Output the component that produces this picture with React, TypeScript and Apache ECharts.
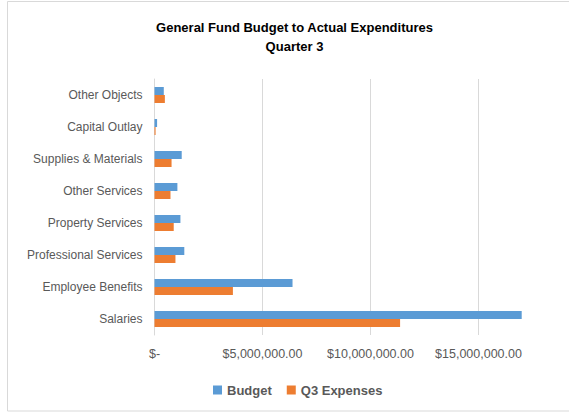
import React, { useEffect, useRef } from "react";
import * as echarts from "echarts";

const categories = [
  "Salaries",
  "Employee Benefits",
  "Professional Services",
  "Property Services",
  "Other Services",
  "Supplies & Materials",
  "Capital Outlay",
  "Other Objects",
];
const budget = [17000000, 6390000, 1380000, 1200000, 1060000, 1260000, 120000, 430000];
const q3Expenses = [11370000, 3630000, 970000, 890000, 740000, 790000, 50000, 480000];
const seriesNames = ["Budget", "Q3 Expenses"];
const titleLines = ["General Fund Budget to Actual Expenditures", "Quarter 3"];

const FONT = "'Liberation Sans', Arial, sans-serif";

function fmt(v: number): string {
  if (v === 0) return "$-";
  if (v > 15000000) return "";
  return "$" + v.toLocaleString("en-US", { minimumFractionDigits: 2, maximumFractionDigits: 2 });
}

export default function App() {
  const ref = useRef<HTMLDivElement>(null);
  useEffect(() => {
    if (!ref.current) return;
    const chart = echarts.init(ref.current, undefined, { renderer: "svg" });
    chart.setOption({
      animation: false,
      backgroundColor: "#ffffff",
      textStyle: { fontFamily: FONT },
      graphic: [
        {
          type: "rect",
          shape: { x: 7.5, y: 1.5, width: 570, height: 409.5 },
          style: { fill: "none", stroke: "#D9D9D9", lineWidth: 1 },
          silent: true,
          z: 100,
        },
        {
          type: "text",
          x: 294.5,
          y: 27,
          style: {
            text: titleLines[0],
            textAlign: "center",
            textVerticalAlign: "middle",
            align: "center",
            verticalAlign: "middle",
            fill: "#000000",
            font: `bold 13px ${FONT}`,
          },
        },
        {
          type: "text",
          x: 294.5,
          y: 46,
          style: {
            text: titleLines[1],
            textAlign: "center",
            textVerticalAlign: "middle",
            align: "center",
            verticalAlign: "middle",
            fill: "#000000",
            font: `bold 13px ${FONT}`,
          },
        },
      ],
      legend: {
        data: seriesNames,
        left: 213,
        top: 383.5,
        padding: 0,
        itemWidth: 9,
        itemHeight: 9,
        itemGap: 15,
        icon: "rect",
        textStyle: { color: "#595959", fontSize: 13, fontWeight: "bold", fontFamily: FONT },
      },
      grid: {
        left: 154.5,
        width: 432,
        top: 79,
        height: 256,
        containLabel: false,
        outerBoundsMode: "none",
      },
      xAxis: {
        type: "value",
        min: 0,
        max: 20000000,
        interval: 5000000,
        axisLine: { show: false },
        axisTick: { show: false },
        splitLine: { show: true, lineStyle: { color: "#D9D9D9", width: 1 } },
        axisLabel: {
          formatter: fmt,
          color: "#595959",
          fontSize: 12.5,
          fontFamily: FONT,
          margin: 12,
        },
      },
      yAxis: {
        type: "category",
        data: categories,
        axisLine: { show: true, lineStyle: { color: "#D9D9D9", width: 1 } },
        axisTick: { show: false },
        axisLabel: { color: "#595959", fontSize: 12, fontFamily: FONT, margin: 12 },
      },
      series: [
        {
          name: seriesNames[0],
          type: "bar",
          data: budget,
          itemStyle: { color: "#5B9BD5" },
          barGap: "0%",
          barCategoryGap: "50%",
        },
        {
          name: seriesNames[1],
          type: "bar",
          data: q3Expenses,
          itemStyle: { color: "#ED7D31" },
          barGap: "0%",
          barCategoryGap: "50%",
        },
      ],
    });
    return () => chart.dispose();
  }, []);
  return (
    <div
      ref={ref}
      style={{ position: "fixed", left: 0, top: 0, width: 569, height: 412 }}
    />
  );
}
